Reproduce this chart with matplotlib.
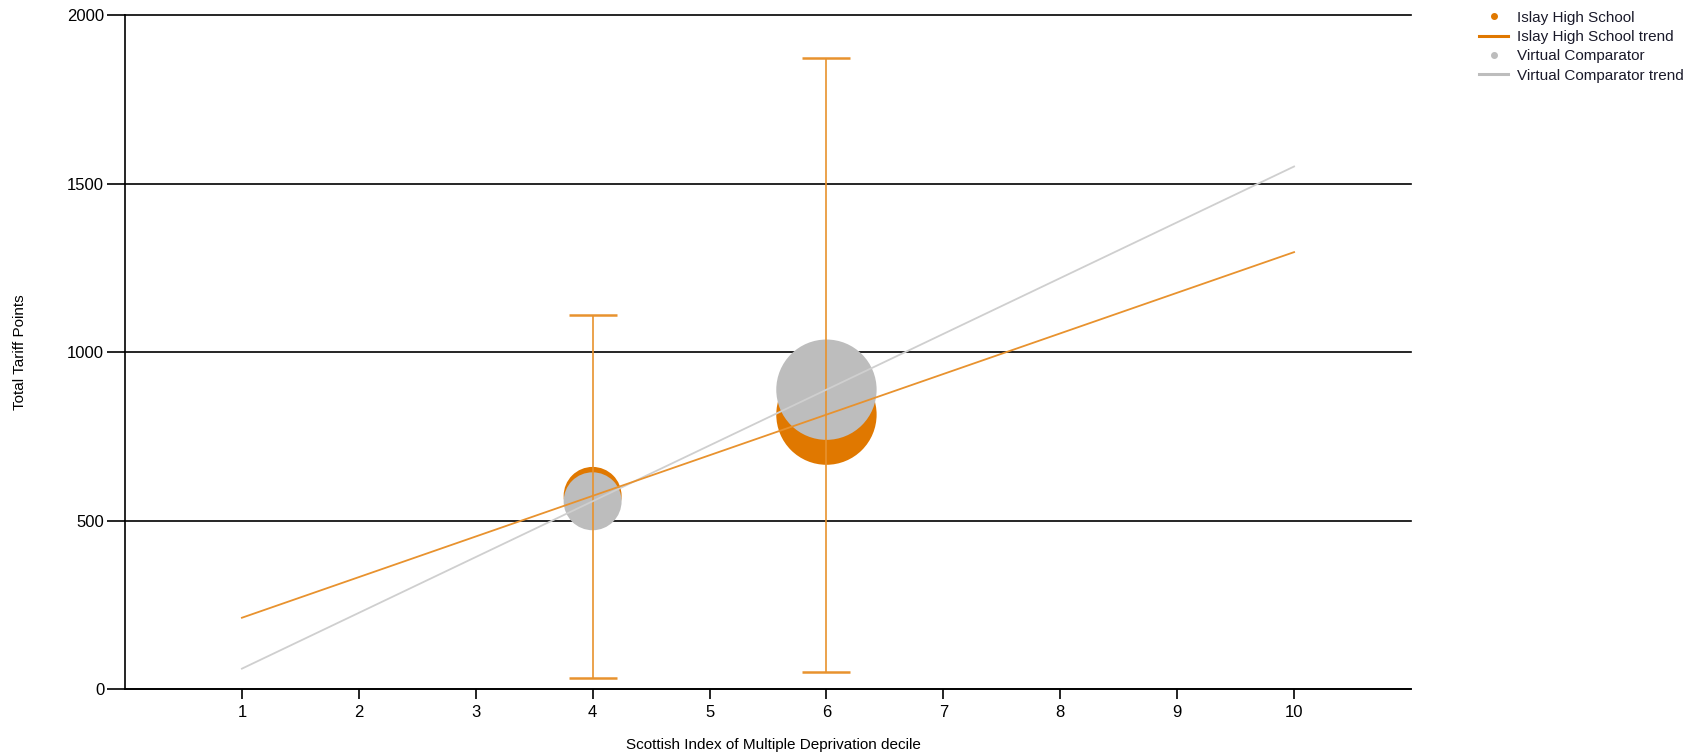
#!/usr/bin/env python
"""Islay High School vs Virtual Comparator: tariff points by SIMD decile."""

import matplotlib
matplotlib.use("Agg")
import matplotlib.pyplot as plt
from matplotlib.lines import Line2D
import numpy as np

# --- data ---
DECILES = [4, 6]
ISLAY_POINTS = [574, 815]
COMPARATOR_POINTS = [558, 889]
ISLAY_LOW = [33, 51]          # error bar lower end
ISLAY_HIGH = [1111, 1873]     # error bar upper end
COHORT = [12, 36]             # bubble size (pupils)
TREND_X = [1, 10]
X_TICKS = list(range(1, 11))
Y_TICKS = [0, 500, 1000, 1500, 2000]

ORANGE = "#E07800"
ORANGE_LINE = "#E8922E"
GREY = "#BDBDBD"
GREY_LINE = "#CFCFCF"
SIZE_SCALE = 145

plt.rcParams["font.family"] = ["Liberation Sans", "DejaVu Sans"]


def trend(x, y, xs):
    """Least-squares straight line through the points, evaluated at xs."""
    m, c = np.polyfit(x, y, 1)
    return m * np.asarray(xs) + c


def main() -> None:
    fig = plt.figure(figsize=(16.89, 7.56), dpi=100)
    ax = fig.add_axes((0.0740, 0.0881, 0.7614, 0.8919))

    sizes = np.array(COHORT) * SIZE_SCALE
    ax.scatter(DECILES, ISLAY_POINTS, s=sizes, color=ORANGE, linewidths=0, zorder=2)
    ax.scatter(DECILES, COMPARATOR_POINTS, s=sizes, color=GREY, linewidths=0, zorder=3)

    pts = np.array(ISLAY_POINTS)
    yerr = [pts - np.array(ISLAY_LOW), np.array(ISLAY_HIGH) - pts]
    ax.errorbar(DECILES, ISLAY_POINTS, yerr=yerr, fmt="none", ecolor=ORANGE_LINE,
                elinewidth=1.2, capsize=17.3, capthick=1.8, zorder=4)

    ax.plot(TREND_X, trend(DECILES, COMPARATOR_POINTS, TREND_X),
            color=GREY_LINE, lw=1.3, zorder=5)
    ax.plot(TREND_X, trend(DECILES, ISLAY_POINTS, TREND_X),
            color=ORANGE_LINE, lw=1.3, zorder=6)

    ax.set_xlim(0, 11)
    ax.set_ylim(0, 2000)
    ax.set_xticks(X_TICKS)
    ax.set_yticks(Y_TICKS)
    ax.yaxis.grid(True, color="black", lw=1.2)
    for gl in ax.get_ygridlines():
        gl.set_clip_on(False)
    ax.set_axisbelow(True)
    for s in ("top", "right"):
        ax.spines[s].set_visible(False)
    for s in ("left", "bottom"):
        ax.spines[s].set_linewidth(1.2)
    ax.tick_params(axis="y", length=13, width=1.2, pad=2, labelsize=12)
    ax.tick_params(axis="x", length=7.5, width=1.2, pad=4, labelsize=12)

    ax.set_ylabel("Total Tariff Points", fontsize=11)
    ax.yaxis.set_label_coords(-0.076, 0.5)
    ax.set_xlabel("Scottish Index of Multiple Deprivation decile", fontsize=11)
    ax.xaxis.set_label_coords(0.504, -0.072)

    handles = [
        Line2D([], [], ls="none", marker="o", ms=4, color=ORANGE),
        Line2D([], [], color=ORANGE, lw=2.2),
        Line2D([], [], ls="none", marker="o", ms=4, color=GREY),
        Line2D([], [], color=GREY, lw=2.2),
    ]
    labels = ["Islay High School", "Islay High School trend",
              "Virtual Comparator", "Virtual Comparator trend"]
    fig.legend(handles, labels, loc="upper left", bbox_to_anchor=(0.8757, 0.986),
               frameon=False, fontsize=11, handlelength=1.9, handletextpad=0.6,
               labelspacing=0.35, borderpad=0, borderaxespad=0, labelcolor="#1a1a2a")

    fig.savefig("out.png", dpi=100)


if __name__ == "__main__":
    main()
